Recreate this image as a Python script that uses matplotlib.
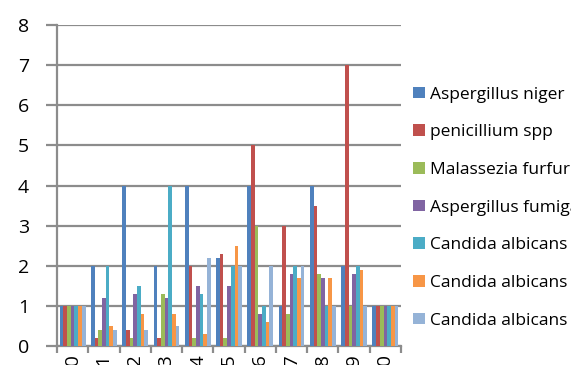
import matplotlib
import numpy as np

matplotlib.use("Agg")
from matplotlib import pyplot as plt  # noqa: E402
from matplotlib.patches import Patch  # noqa: E402

# sample labels along the x axis
categories = [str(year) for year in range(2010, 2021)]

series_names = [
    "Aspergillus niger",
    "penicillium spp",
    "Malassezia furfur",
    "Aspergillus fumigatus",
    "Candida albicans 1",
    "Candida albicans 2",
    "Candida albicans 3",
]

aspergillus_niger = [1, 2, 4, 2, 4, 2.2, 4, 1, 4, 2, 1]
penicillium_spp = [1, 0.2, 0.4, 0.2, 2, 2.3, 5, 3, 3.5, 7, 1]
malassezia_furfur = [1, 0.4, 0.2, 1.3, 0.2, 0.2, 3, 0.8, 1.8, 1, 1]
aspergillus_fumigatus = [1, 1.2, 1.3, 1.2, 1.5, 1.5, 0.8, 1.8, 1.7, 1.8, 1]
candida_albicans_1 = [1, 2, 1.5, 4, 1.3, 2, 1, 2, 1, 2, 1]
candida_albicans_2 = [1, 0.5, 0.8, 0.8, 0.3, 2.5, 0.6, 1.7, 1.7, 1.9, 1]
candida_albicans_3 = [1, 0.4, 0.4, 0.5, 2.2, 2, 2, 2, 1, 1, 1]

series_values = [
    aspergillus_niger,
    penicillium_spp,
    malassezia_furfur,
    aspergillus_fumigatus,
    candida_albicans_1,
    candida_albicans_2,
    candida_albicans_3,
]

colors = ["#4F81BD", "#C0504D", "#9BBB59", "#8064A2", "#4BACC6", "#F79646", "#95B3D7"]
grid_color = "#8C8C8C"

figure = plt.figure(figsize=(5.71, 3.65), dpi=100)
axis = figure.add_axes([0.0998, 0.052, 0.6025, 0.8795])

positions = np.arange(len(categories))
bar_width = 1.0 / (len(series_values) + 1.5)
for index, (values, color) in enumerate(zip(series_values, colors)):
    offset = (index - (len(series_values) - 1) / 2) * bar_width
    axis.bar(positions + offset, values, width=bar_width, color=color,
             linewidth=0, zorder=3)

axis.set_xlim(-0.5, len(categories) - 0.5)
axis.set_ylim(0, 8)
axis.set_yticks(range(0, 9))
axis.yaxis.grid(True, color=grid_color, linewidth=1.6, zorder=0)

axis.set_xticks(positions)
axis.set_xticklabels(categories, rotation=90, fontsize=14, fontfamily="Open Sans")
axis.set_xticks(np.arange(-0.5, len(categories)), minor=True)
axis.tick_params(axis="x", which="major", length=0, pad=6)
axis.tick_params(axis="x", which="minor", length=5, width=1.6, color=grid_color)
axis.tick_params(axis="y", length=8, width=1.6, color=grid_color, pad=12,
                 labelsize=14)
for label in axis.get_yticklabels():
    label.set_fontfamily("Open Sans")

for side in ("top", "right"):
    axis.spines[side].set_visible(False)
for side in ("left", "bottom"):
    axis.spines[side].set_color(grid_color)
    axis.spines[side].set_linewidth(1.6)

handles = [Patch(facecolor=color, edgecolor="none") for color in colors]
figure.legend(
    handles,
    series_names,
    loc="upper left",
    bbox_to_anchor=(0.724, 0.763),
    frameon=False,
    prop={"family": "Open Sans", "size": 12.5},
    handlelength=0.65,
    handleheight=0.65,
    handletextpad=0.3,
    labelspacing=1.25,
    borderpad=0,
    borderaxespad=0,
)

figure.savefig("out.png", dpi=100)
plt.close(figure)
